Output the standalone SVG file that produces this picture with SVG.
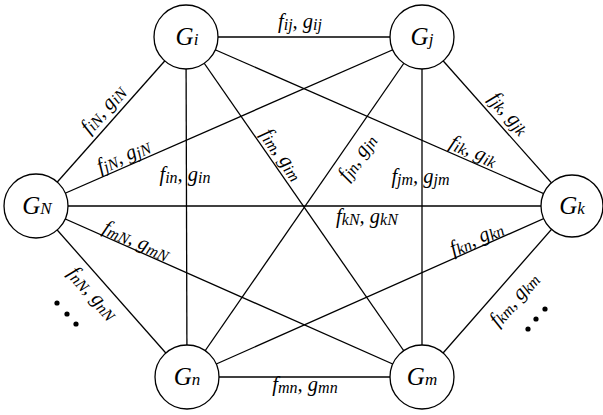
<svg xmlns="http://www.w3.org/2000/svg" width="603" height="415" viewBox="0 0 603 415">
<style>
.e{stroke:#000;stroke-width:1.3;fill:none}
.n{fill:#fff;stroke:#000;stroke-width:1.3}
.t{font-family:"Liberation Serif","Times New Roman",serif;font-style:italic;fill:#000}
.nl{font-size:25px;text-anchor:middle}
.nl .s{font-size:17px}
.el{font-size:20.5px;text-anchor:middle}
.el .s{font-size:16px}
</style>
<rect width="603" height="415" fill="#fff"/>
<g id="connectors">
<line class="e" x1="186" y1="37" x2="422" y2="37"/>
<line class="e" x1="186" y1="37" x2="36" y2="206"/>
<line class="e" x1="186" y1="37" x2="187" y2="377"/>
<line class="e" x1="186" y1="37" x2="422" y2="377"/>
<line class="e" x1="186" y1="37" x2="572" y2="206"/>
<line class="e" x1="422" y1="37" x2="36" y2="206"/>
<line class="e" x1="422" y1="37" x2="572" y2="206"/>
<line class="e" x1="422" y1="37" x2="422" y2="377"/>
<line class="e" x1="422" y1="37" x2="187" y2="377"/>
<line class="e" x1="36" y1="206" x2="572" y2="206"/>
<line class="e" x1="36" y1="206" x2="422" y2="377"/>
<line class="e" x1="36" y1="206" x2="187" y2="377"/>
<line class="e" x1="572" y1="206" x2="187" y2="377"/>
<line class="e" x1="572" y1="206" x2="422" y2="377"/>
<line class="e" x1="187" y1="377" x2="422" y2="377"/>
</g>
<g id="edge-labels" class="t el">
<text x="300" y="28">f<tspan class="s" dy="2">ij</tspan><tspan dy="-2">, g</tspan><tspan class="s" dy="2">ij</tspan></text>
<text transform="translate(104,110) rotate(-48.4)" y="5">f<tspan class="s" dy="2">iN</tspan><tspan dy="-2">, g</tspan><tspan class="s" dy="2">iN</tspan></text>
<text transform="translate(124,157) rotate(-23.6)" y="5">f<tspan class="s" dy="2">jN</tspan><tspan dy="-2">, g</tspan><tspan class="s" dy="2">jN</tspan></text>
<text x="185" y="181">f<tspan class="s" dy="2">in</tspan><tspan dy="-2">, g</tspan><tspan class="s" dy="2">in</tspan></text>
<text transform="translate(281,155) rotate(55.2)" y="5">f<tspan class="s" dy="2">im</tspan><tspan dy="-2">, g</tspan><tspan class="s" dy="2">im</tspan></text>
<text transform="translate(358,158) rotate(-55.3)" y="5">f<tspan class="s" dy="2">jn</tspan><tspan dy="-2">, g</tspan><tspan class="s" dy="2">jn</tspan></text>
<text transform="translate(473,152) rotate(23.6)" y="5">f<tspan class="s" dy="2">ik</tspan><tspan dy="-2">, g</tspan><tspan class="s" dy="2">ik</tspan></text>
<text transform="translate(508,114) rotate(48.4)" y="5">f<tspan class="s" dy="2">jk</tspan><tspan dy="-2">, g</tspan><tspan class="s" dy="2">jk</tspan></text>
<text x="420.5" y="183">f<tspan class="s" dy="2">jm</tspan><tspan dy="-2">, g</tspan><tspan class="s" dy="2">jm</tspan></text>
<text x="367" y="223">f<tspan class="s" dy="2">kN</tspan><tspan dy="-2">, g</tspan><tspan class="s" dy="2">kN</tspan></text>
<text transform="translate(134,246.2) rotate(23.9)">f<tspan class="s" dy="2">mN</tspan><tspan dy="-2">, g</tspan><tspan class="s" dy="2">mN</tspan></text>
<text transform="translate(92,294) rotate(48.6)" y="5">f<tspan class="s" dy="2">nN</tspan><tspan dy="-2">, g</tspan><tspan class="s" dy="2">nN</tspan></text>
<text transform="translate(479.1,244) rotate(-23.9)">f<tspan class="s" dy="2">kn</tspan><tspan dy="-2">, g</tspan><tspan class="s" dy="2">kn</tspan></text>
<text transform="translate(515,300) rotate(-48.7)" y="5">f<tspan class="s" dy="2">km</tspan><tspan dy="-2">, g</tspan><tspan class="s" dy="2">km</tspan></text>
<text x="305" y="391">f<tspan class="s" dy="2">mn</tspan><tspan dy="-2">, g</tspan><tspan class="s" dy="2">mn</tspan></text>
</g>
<g id="node-Gi"><circle class="n" cx="186" cy="37" r="32"/><text class="t nl" x="187" y="45">G<tspan class="s">i</tspan></text></g>
<g id="node-Gj"><circle class="n" cx="422" cy="37" r="32"/><text class="t nl" x="422" y="45">G<tspan class="s">j</tspan></text></g>
<g id="node-GN"><circle class="n" cx="36" cy="206" r="32"/><text class="t nl" x="37" y="214">G<tspan class="s">N</tspan></text></g>
<g id="node-Gk"><circle class="n" cx="572" cy="206" r="31"/><text class="t nl" x="572" y="214">G<tspan class="s">k</tspan></text></g>
<g id="node-Gn"><circle class="n" cx="187" cy="377" r="32"/><text class="t nl" x="187" y="385">G<tspan class="s">n</tspan></text></g>
<g id="node-Gm"><circle class="n" cx="422" cy="377" r="32"/><text class="t nl" x="422" y="385">G<tspan class="s">m</tspan></text></g>
<g id="ellipsis-left"><circle cx="57" cy="303" r="2.6"/><circle cx="67" cy="314" r="2.6"/><circle cx="76" cy="324" r="2.6"/></g>
<g id="ellipsis-right"><circle cx="545" cy="309" r="2.6"/><circle cx="536" cy="319" r="2.6"/><circle cx="528" cy="329" r="2.6"/></g>
</svg>
